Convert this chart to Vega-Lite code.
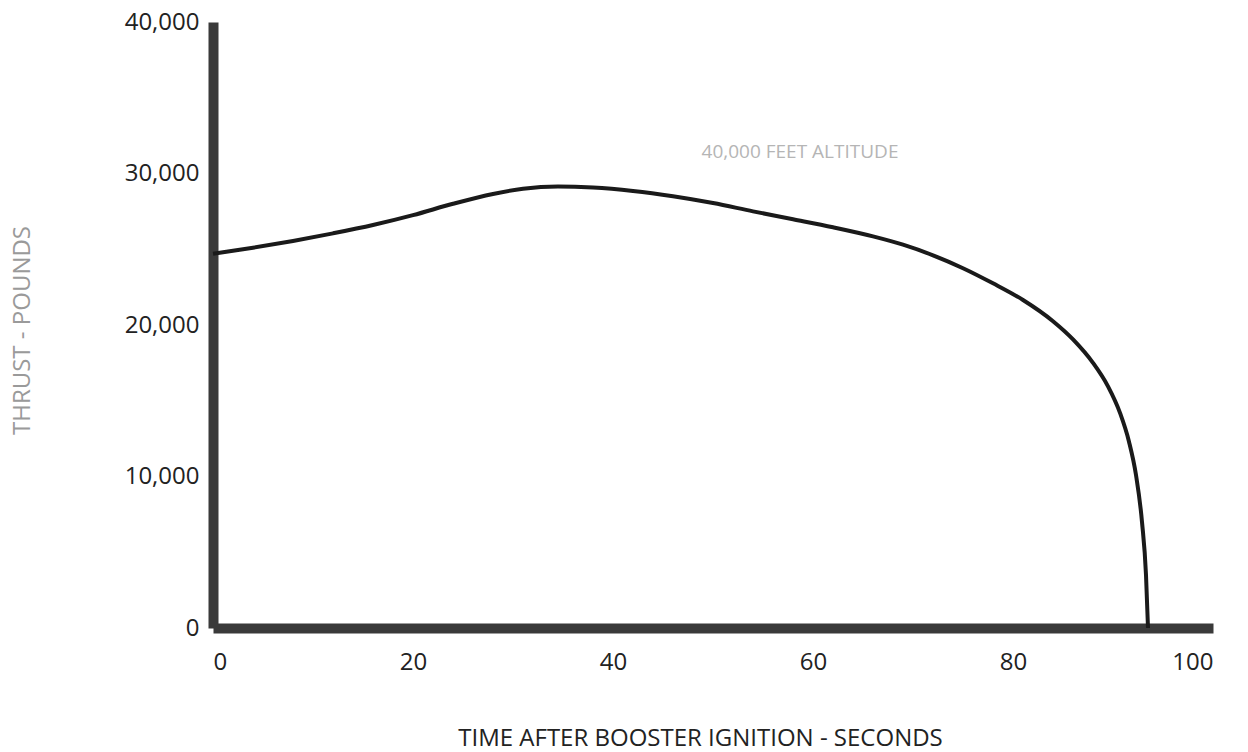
{
  "$schema": "https://vega.github.io/schema/vega-lite/v6.json",
  "width": 1000,
  "height": 606,
  "autosize": {"type": "none"},
  "padding": {"left": 213, "top": 22, "right": 35, "bottom": 124},
  "background": "white",
  "config": {"view": {"stroke": null}, "font": "Open Sans"},
  "datasets": {
    "curve": [
      {"t": 0, "thrust": 24700},
      {"t": 4, "thrust": 25100},
      {"t": 8, "thrust": 25550},
      {"t": 12, "thrust": 26050},
      {"t": 16, "thrust": 26600},
      {"t": 20, "thrust": 27250},
      {"t": 24, "thrust": 28000},
      {"t": 28, "thrust": 28650},
      {"t": 31, "thrust": 29000},
      {"t": 34.5, "thrust": 29150},
      {"t": 38, "thrust": 29080},
      {"t": 42, "thrust": 28850},
      {"t": 46, "thrust": 28500},
      {"t": 50, "thrust": 28050},
      {"t": 54, "thrust": 27500},
      {"t": 58, "thrust": 26980},
      {"t": 62, "thrust": 26450},
      {"t": 66, "thrust": 25850},
      {"t": 69, "thrust": 25300},
      {"t": 72, "thrust": 24600},
      {"t": 75, "thrust": 23750},
      {"t": 78, "thrust": 22750},
      {"t": 81, "thrust": 21650},
      {"t": 84, "thrust": 20250},
      {"t": 86, "thrust": 19050},
      {"t": 88, "thrust": 17500},
      {"t": 89.5, "thrust": 15950},
      {"t": 90.7, "thrust": 14200},
      {"t": 91.6, "thrust": 12300},
      {"t": 92.3, "thrust": 10100},
      {"t": 92.9, "thrust": 7000},
      {"t": 93.3, "thrust": 3500},
      {"t": 93.5, "thrust": 0}
    ],
    "notes": [
      {"t": 58.7, "thrust": 31400, "label": "40,000 FEET ALTITUDE"}
    ]
  },
  "layer": [
    {
      "data": {"name": "curve"},
      "mark": {"type": "line", "color": "#1a1a1a", "strokeWidth": 4, "interpolate": "monotone"},
      "encoding": {
        "x": {
          "field": "t", "type": "quantitative",
          "scale": {"domain": [0, 100], "nice": false},
          "axis": {
            "values": [0, 20, 40, 60, 80, 100],
            "grid": false, "ticks": false,
            "domainColor": "#3a3a3a", "domainWidth": 10,
            "labelFont": "Open Sans", "labelFontSize": 24, "labelColor": "#222",
            "labelPadding": 22,
            "title": "TIME AFTER BOOSTER IGNITION - SECONDS",
            "titleFont": "Open Sans", "titleFontSize": 24, "titleFontWeight": "normal", "titleColor": "#222",
            "titleX": 487, "titleY": 110, "titleAlign": "center", "titleBaseline": "middle"
          }
        },
        "y": {
          "field": "thrust", "type": "quantitative",
          "scale": {"domain": [0, 40000], "nice": false},
          "axis": {
            "values": [0, 10000, 20000, 30000, 40000],
            "format": ",d",
            "grid": false, "ticks": false,
            "domainColor": "#3a3a3a", "domainWidth": 10,
            "labelFont": "Open Sans", "labelFontSize": 24, "labelColor": "#222",
            "labelPadding": 14,
            "title": "THRUST - POUNDS",
            "titleFont": "Open Sans", "titleFontSize": 24, "titleFontWeight": "normal", "titleColor": "#9a9a9a",
            "titleAngle": -90, "titleX": -191, "titleY": 308, "titleAlign": "center", "titleBaseline": "middle"
          }
        }
      }
    },
    {
      "data": {"name": "notes"},
      "mark": {"type": "text", "font": "Open Sans", "fontSize": 19, "color": "#b5b5b5", "align": "center", "baseline": "middle"},
      "encoding": {
        "x": {"field": "t", "type": "quantitative"},
        "y": {"field": "thrust", "type": "quantitative"},
        "text": {"field": "label"}
      }
    }
  ]
}
